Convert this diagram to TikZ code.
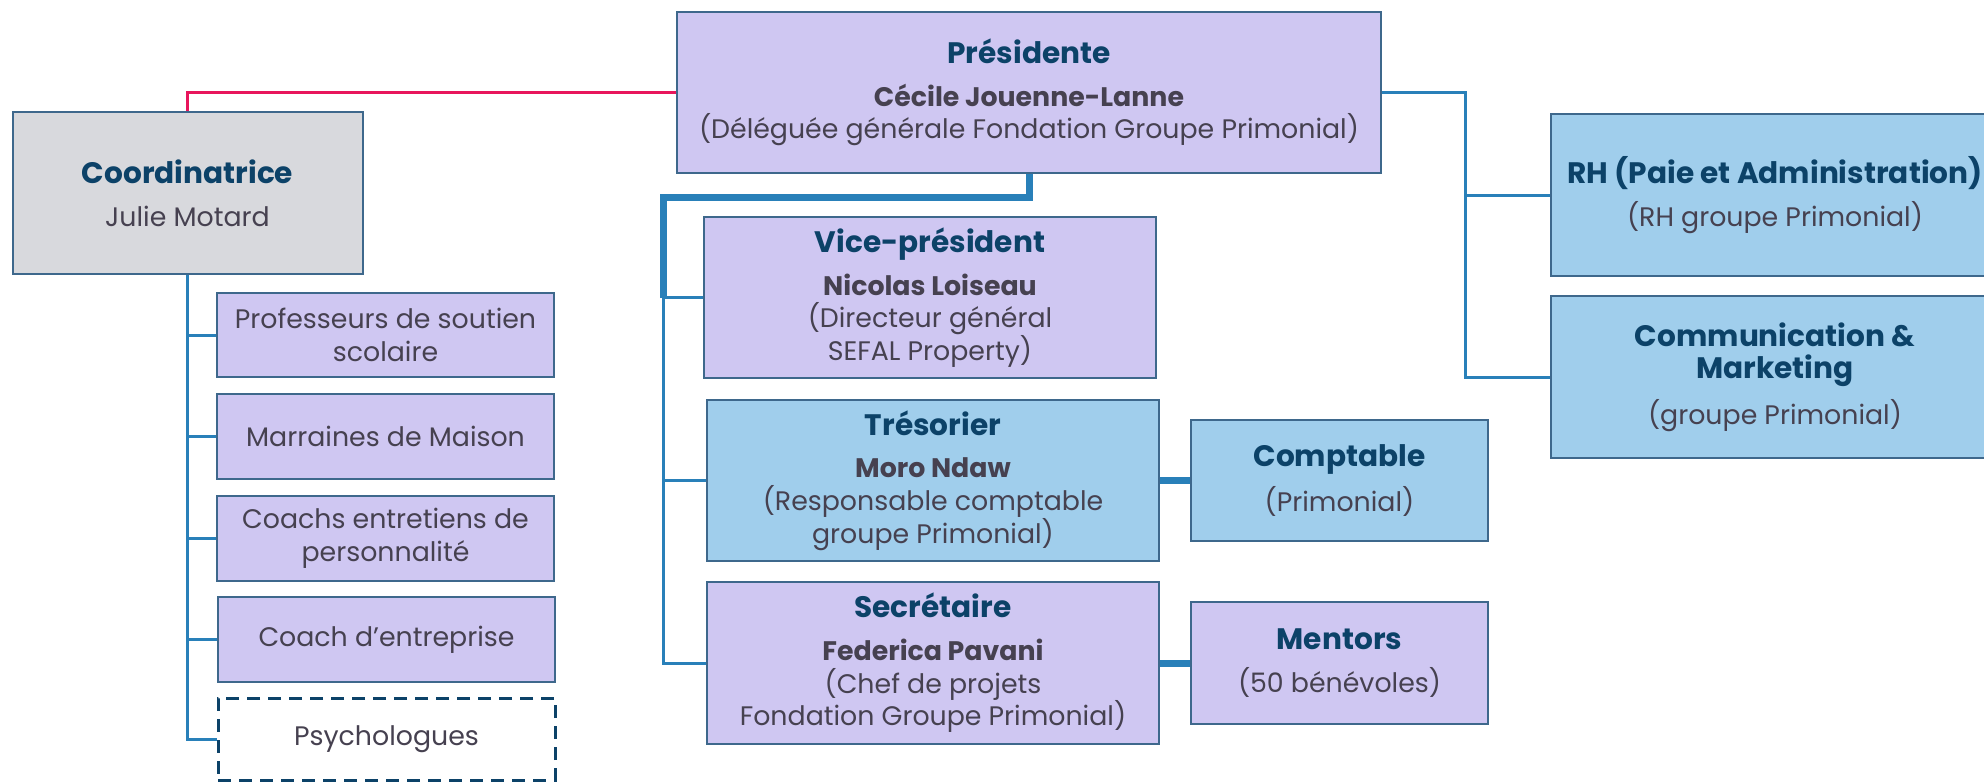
\documentclass[tikz,border=0pt]{standalone}
\usepackage{fontspec}
\setmainfont{Poppins}
\usetikzlibrary{positioning,calc}

\definecolor{lavande}{RGB}{207,199,242}
\definecolor{bleuclair}{RGB}{160,206,236}
\definecolor{grisclair}{RGB}{216,217,221}
\definecolor{bord}{RGB}{62,104,140}
\definecolor{marine}{RGB}{12,66,104}
\definecolor{gristexte}{RGB}{70,65,80}
\definecolor{bleulien}{RGB}{41,128,185}
\definecolor{rouge}{RGB}{232,22,92}

\begin{document}
\begin{tikzpicture}[x=0.5pt,y=-0.5pt]
\tikzstyle{boite}=[draw=bord, line width=1pt, align=center, inner sep=0pt, text=gristexte, font=\fontsize{13.4}{16.3}\selectfont]
\tikzstyle{mauve}=[boite, fill=lavande]
\tikzstyle{bleu}=[boite, fill=bleuclair]
\tikzstyle{gris}=[boite, fill=grisclair]
\tikzstyle{pointille}=[boite, draw=marine, dash pattern=on 6.5pt off 4pt, line width=1.5pt]
\tikzstyle{trait}=[draw=bleulien, line width=1.5pt]
\tikzstyle{traitfort}=[draw=bleulien, line width=3.5pt]
\tikzstyle{traitrouge}=[draw=rouge, line width=1.5pt]

\newcommand{\titre}[1]{{\fontsize{14.8}{17.5}\selectfont\bfseries\color{marine}#1}}
\newcommand{\nom}[1]{{\bfseries #1}}

\useasboundingbox (0,0) rectangle (1984,782);

%%%%%%%%%%%%%%%%%%%%%%%%%%%%%%
%%%%% BUREAU
\coordinate (pres) at (1029, 92.5);
\coordinate (vice) at (930, 297.5);
\coordinate (treso) at (933, 480.5);
\coordinate (secr) at (933, 663);
\coordinate (compt) at (1339.5, 480.5);
\coordinate (ment) at (1339.5, 663);

%%%%% SUPPORT GROUPE
\coordinate (rh) at (1775, 195);
\coordinate (comm) at (1775, 377);

%%%%% COORDINATION
\coordinate (coord) at (187.5, 193);
\coordinate (prof) at (385.5, 335);
\coordinate (marr) at (385.5, 436.5);
\coordinate (coachs) at (385.5, 538.5);
\coordinate (coachent) at (386.5, 639.5);
\coordinate (psy) at (386.5, 739);

%%%%%%%%%%%%%%%
%%%%% BOITES
\node[mauve, minimum width=352pt, minimum height=80.5pt] (pres) at (pres)
  {\titre{Présidente}\\[5pt]\nom{Cécile Jouenne-Lanne}\\(Déléguée générale Fondation Groupe Primonial)};
\node[mauve, minimum width=226pt, minimum height=80.5pt] (vice) at (vice)
  {\titre{Vice-président}\\[5pt]\nom{Nicolas Loiseau}\\(Directeur général\\SEFAL Property)};
\node[bleu, minimum width=226pt, minimum height=80.5pt] (treso) at (treso)
  {\titre{Trésorier}\\[5pt]\nom{Moro Ndaw}\\(Responsable comptable\\groupe Primonial)};
\node[mauve, minimum width=226pt, minimum height=81pt] (secr) at (secr)
  {\titre{Secrétaire}\\[5pt]\nom{Federica Pavani}\\(Chef de projets\\Fondation Groupe Primonial)};
\node[bleu, minimum width=148.5pt, minimum height=60.5pt] (compt) at (compt)
  {\titre{Comptable}\\[5pt](Primonial)};
\node[mauve, minimum width=148.5pt, minimum height=61pt] (ment) at (ment)
  {\titre{Mentors}\\[5pt](50 bénévoles)};

\node[bleu, minimum width=224pt, minimum height=81pt] (rh) at (rh)
  {\titre{RH (Paie et Administration)}\\[5pt](RH groupe Primonial)};
\node[bleu, minimum width=224pt, minimum height=81pt] (comm) at (comm)
  {\titre{Communication \&}\\\titre{Marketing}\\[5pt](groupe Primonial)};

\node[gris, minimum width=175pt, minimum height=81pt] (coord) at (coord)
  {\titre{Coordinatrice}\\[5pt]Julie Motard};
\node[mauve, minimum width=168.5pt, minimum height=42pt] (prof) at (prof) {Professeurs de soutien\\scolaire};
\node[mauve, minimum width=168.5pt, minimum height=42.5pt] (marr) at (marr) {Marraines de Maison};
\node[mauve, minimum width=168.5pt, minimum height=42.5pt] (coachs) at (coachs) {Coachs entretiens de\\personnalité};
\node[mauve, minimum width=168.5pt, minimum height=42.5pt] (coachent) at (coachent) {Coach d’entreprise};
\node[pointille, minimum width=168.5pt, minimum height=41pt] (psy) at (psy) {Psychologues};

%%%%%%%%%%%%%%%
%%%%% LIAISONS
\draw[traitrouge] (pres.west) -| (coord.north);

\coordinate (bus_d) at (1465, 92.5);
\draw[trait] (pres.east) -- (bus_d) |- (comm.west);
\draw[trait] (bus_d |- rh.west) -- (rh.west);

\coordinate (bus_m) at (663, 197);
\draw[traitfort] (pres.south) |- (bus_m) -- (bus_m |- vice.west);
\draw[trait] (bus_m) |- (secr.west);
\draw[trait] (bus_m |- vice.west) -- (vice.west);
\draw[trait] (bus_m |- treso.west) -- (treso.west);
\draw[traitfort] (treso.east) -- (compt.west);
\draw[traitfort] (secr.east) -- (ment.west);

\draw[trait] (coord.south) |- (psy.west);
\draw[trait] (coord.south |- prof.west) -- (prof.west);
\draw[trait] (coord.south |- marr.west) -- (marr.west);
\draw[trait] (coord.south |- coachs.west) -- (coachs.west);
\draw[trait] (coord.south |- coachent.west) -- (coachent.west);

\end{tikzpicture}
\end{document}
